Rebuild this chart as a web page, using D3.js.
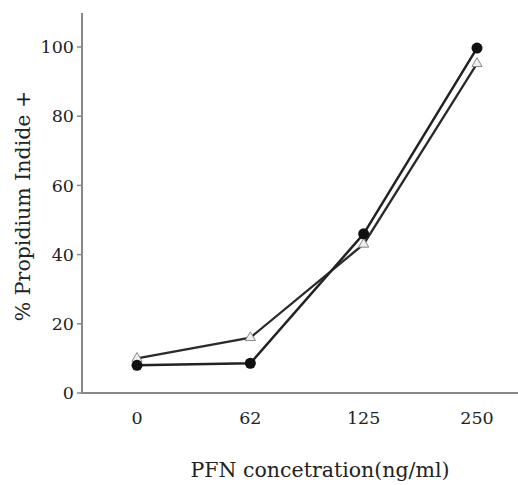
<!DOCTYPE html>
<html>
<head>
<meta charset="utf-8">
<script src="https://cdn.jsdelivr.net/npm/d3@7"></script>
<style>
  body { margin: 0; background: #fff; }
  text { font-family: "DejaVu Serif", "Liberation Serif", serif; fill: #222; }
</style>
</head>
<body>
<svg width="518" height="485"></svg>
<script>
const doses = ["0", "62", "125", "250"];
const circleVals = [8, 8.6, 46, 99.7];
const triangleVals = [10, 16, 43, 95.2];
const yTicks = [0, 20, 40, 60, 80, 100];

const svg = d3.select("svg");

const x = d3.scalePoint().domain(doses).range([137, 477]);
const y = d3.scaleLinear().domain([0, 100]).range([393, 47]);

// y axis
svg.append("line")
  .attr("x1", 82).attr("x2", 82)
  .attr("y1", 13).attr("y2", 394)
  .attr("stroke", "#888").attr("stroke-width", 2);

// x axis
svg.append("line")
  .attr("x1", 81).attr("x2", 518)
  .attr("y1", 393).attr("y2", 393)
  .attr("stroke", "#888").attr("stroke-width", 2);

const yt = svg.append("g");
yTicks.forEach(t => {
  yt.append("line")
    .attr("x1", 77).attr("x2", 82)
    .attr("y1", y(t)).attr("y2", y(t))
    .attr("stroke", "#888").attr("stroke-width", 1.5);
  yt.append("text")
    .attr("x", 74).attr("y", y(t))
    .attr("dy", "0.35em")
    .attr("text-anchor", "end")
    .style("font-size", "17.5px")
    .text(t);
});

doses.forEach(d => {
  svg.append("text")
    .attr("x", x(d)).attr("y", 424)
    .attr("text-anchor", "middle")
    .style("font-size", "17.5px")
    .text(d);
});

svg.append("text")
  .attr("x", 320).attr("y", 477)
  .attr("text-anchor", "middle")
  .style("font-size", "20.5px")
  .text("PFN concetration(ng/ml)");

svg.append("text")
  .attr("transform", "translate(30,206) rotate(-90)")
  .attr("text-anchor", "middle")
  .style("font-size", "20.5px")
  .text("% Propidium Indide +");

const line = d3.line().x((v, i) => x(doses[i])).y(v => y(v));

svg.append("path")
  .attr("d", line(triangleVals))
  .attr("fill", "none").attr("stroke", "#2a2a2a").attr("stroke-width", 2.3);

svg.append("path")
  .attr("d", line(circleVals))
  .attr("fill", "none").attr("stroke", "#222").attr("stroke-width", 2.5);

const tri = d3.symbol().type(d3.symbolTriangle).size(45);
svg.selectAll(".tri").data(triangleVals).join("path")
  .attr("class", "tri")
  .attr("d", tri)
  .attr("transform", (v, i) => "translate(" + x(doses[i]) + "," + y(v) + ")")
  .attr("fill", "#eee").attr("stroke", "#888").attr("stroke-width", 1);

svg.selectAll(".dot").data(circleVals).join("circle")
  .attr("class", "dot")
  .attr("cx", (v, i) => x(doses[i]))
  .attr("cy", v => y(v))
  .attr("r", 5.5)
  .attr("fill", "#111");
</script>
</body>
</html>
